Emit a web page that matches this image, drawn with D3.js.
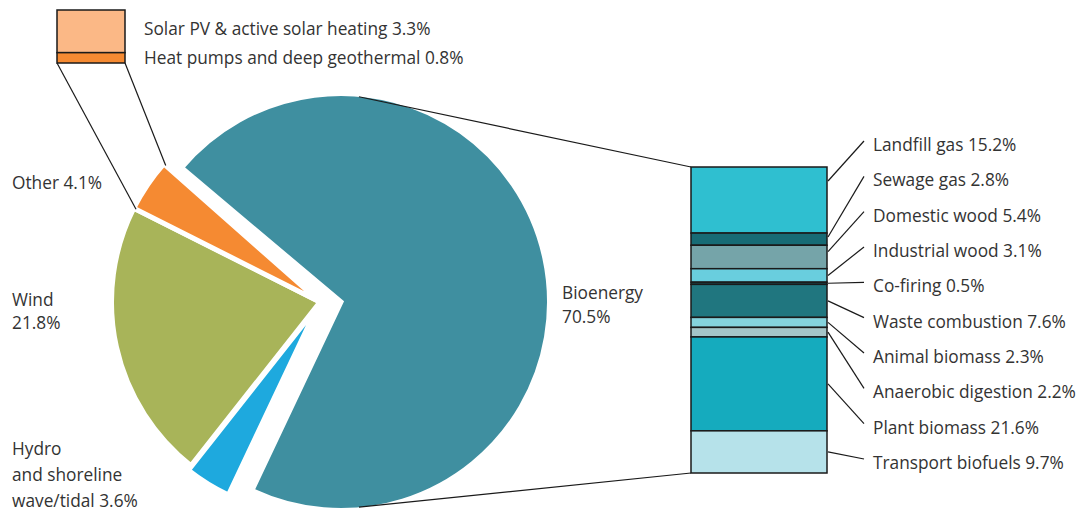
<!DOCTYPE html>
<html>
<head>
<meta charset="utf-8">
<script src="https://cdn.jsdelivr.net/npm/d3@7/dist/d3.min.js"></script>
<style>
  html, body { margin: 0; padding: 0; background: #fff; }
  svg text { font-family: "Open Sans", "Noto Sans", sans-serif; font-size: 17.3px; fill: #333; }
</style>
</head>
<body>
<svg id="chart" width="1082" height="512"></svg>
<script>
// ---------- DATA ----------
const pieNames  = ["Bioenergy", "Hydro and shoreline wave/tidal", "Wind", "Other"];
const pieValues = [70.5, 3.6, 21.8, 4.1];
const pieLabels = [["Bioenergy", "70.5%"], ["Hydro", "and shoreline", "wave/tidal 3.6%"], ["Wind", "21.8%"], ["Other 4.1%"]];

const otherNames  = ["Solar PV & active solar heating", "Heat pumps and deep geothermal"];
const otherValues = [3.3, 0.8];

const bioNames  = ["Landfill gas", "Sewage gas", "Domestic wood", "Industrial wood", "Co-firing",
                   "Waste combustion", "Animal biomass", "Anaerobic digestion", "Plant biomass", "Transport biofuels"];
const bioValues = [15.2, 2.8, 5.4, 3.1, 0.5, 7.6, 2.3, 2.2, 21.6, 9.7];

// ---------- STYLE ----------
const pieColors   = ["#3f8fa0", "#1ea9de", "#a8b459", "#f58a32"];
const otherColors = ["#fbb886", "#f58a32"];
const bioColors   = ["#2fbfd0", "#176b75", "#75a4a9", "#69cede", "#1b5f66",
                     "#20767f", "#85d3dd", "#a5c5c8", "#15abbe", "#b6e2ea"];

const svg = d3.select("#chart");
const deg = Math.PI / 180;

// ---------- PIE ----------
const cx = 320, cy = 302, R = 208.5, gapW = 5;
const bioShift = [21, 0];     // exploded bioenergy slice
const hydroShift = [-2.5, 4.5];
const bioOverlap = 1.4 * deg; // keeps exploded slice gaps tight
const pie = d3.pie().sort(null).value(d => d)
  .startAngle(-48.5 * deg).endAngle(-48.5 * deg + 2 * Math.PI);
const arcs = pie(pieValues);
const arc = d3.arc().innerRadius(0).outerRadius(R);

const gPie = svg.append("g").attr("transform", `translate(${cx},${cy})`);
arcs.forEach((a, i) => {
  let d = a;
  let t = [0, 0];
  if (i === 0) { d = Object.assign({}, a, { startAngle: a.startAngle - bioOverlap }); t = bioShift; }
  if (i === 1) { t = hydroShift; }
  gPie.append("path")
    .attr("d", arc(d))
    .attr("transform", `translate(${t[0]},${t[1]})`)
    .attr("fill", pieColors[i])
    .attr("stroke", "#fff")
    .attr("stroke-width", gapW)
    .attr("stroke-linejoin", "miter");
});

const rVis = R - gapW / 2;
function polar(ang, r, off) {
  return [cx + off[0] + r * Math.sin(ang), cy + off[1] - r * Math.cos(ang)];
}

// ---------- OTHER BREAKDOWN BAR (top-left) ----------
const otherTotal = d3.sum(otherValues);
const yO = d3.scaleLinear().domain([0, otherTotal]).range([10, 63]);
const xO = [57, 125];
let accO = 0;
otherValues.forEach((v, i) => {
  svg.append("rect")
    .attr("x", xO[0]).attr("y", yO(accO))
    .attr("width", xO[1] - xO[0]).attr("height", yO(accO + v) - yO(accO))
    .attr("fill", otherColors[i]).attr("stroke", "#1a1a1a").attr("stroke-width", 1.5);
  accO += v;
});
const otherArc = arcs[3];
const pOtherStart = polar(otherArc.startAngle, rVis, [0, 0]);
const pOtherEnd = polar(otherArc.endAngle, rVis, [0, 0]);
svg.append("line").attr("x1", xO[0]).attr("y1", yO(otherTotal)).attr("x2", pOtherStart[0]).attr("y2", pOtherStart[1])
  .attr("stroke", "#1a1a1a").attr("stroke-width", 1.2);
svg.append("line").attr("x1", xO[1]).attr("y1", yO(otherTotal)).attr("x2", pOtherEnd[0]).attr("y2", pOtherEnd[1])
  .attr("stroke", "#1a1a1a").attr("stroke-width", 1.2);
const yOtherLab = d3.scalePoint().domain(otherNames).range([29, 58]);
otherNames.forEach((n, i) => {
  svg.append("text").attr("x", 144).attr("y", yOtherLab(n)).attr("dy", "0.35em")
    .text(`${n} ${otherValues[i]}%`);
});

// ---------- BIOENERGY BREAKDOWN BAR (right) ----------
const bioTotal = d3.sum(bioValues);
const yB = d3.scaleLinear().domain([0, bioTotal]).range([167, 473]);
const xB = [691, 827];
const cum = [0, ...d3.cumsum(bioValues)];
bioValues.forEach((v, i) => {
  svg.append("rect")
    .attr("x", xB[0]).attr("y", yB(cum[i]))
    .attr("width", xB[1] - xB[0]).attr("height", yB(cum[i + 1]) - yB(cum[i]))
    .attr("fill", bioColors[i]).attr("stroke", "#1a1a1a").attr("stroke-width", 1.5);
});

// connectors from bioenergy slice to bar
const pTop = polar(5 * deg, rVis, bioShift);
const pBot = polar(175 * deg, rVis, bioShift);
svg.append("line").attr("x1", pTop[0]).attr("y1", pTop[1]).attr("x2", xB[0]).attr("y2", yB(0))
  .attr("stroke", "#1a1a1a").attr("stroke-width", 1.2);
svg.append("line").attr("x1", pBot[0]).attr("y1", pBot[1]).attr("x2", xB[0]).attr("y2", yB(bioTotal))
  .attr("stroke", "#1a1a1a").attr("stroke-width", 1.2);

// labels + leader lines
const yLab = d3.scalePoint().domain(bioNames).range([145, 463]);
bioNames.forEach((n, i) => {
  const ly = yLab(n);
  const top = yB(cum[i]), bot = yB(cum[i + 1]);
  const mid = (top + bot) / 2;
  let anchor = Math.min(mid, ly + 36);
  anchor = Math.max(anchor, Math.min(top + 4, mid));
  svg.append("line").attr("x1", xB[1] + 1).attr("y1", anchor).attr("x2", 864).attr("y2", ly - 4)
    .attr("stroke", "#1a1a1a").attr("stroke-width", 1.2);
  svg.append("text").attr("x", 873).attr("y", ly).attr("dy", "0.35em").text(`${n} ${bioValues[i]}%`);
});

// ---------- PIE LABELS ----------
const labelPos = [[562, 293, 24], [12, 449, 26], [12, 300, 23], [12, 183, 0]];
pieLabels.forEach((lines, i) => {
  const [x, y, lh] = labelPos[i];
  const t = svg.append("text").attr("x", x).attr("y", y);
  lines.forEach((l, j) => {
    t.append("tspan").attr("x", x).attr("y", y + j * lh).attr("dy", "0.35em").text(l);
  });
});
</script>
</body>
</html>
